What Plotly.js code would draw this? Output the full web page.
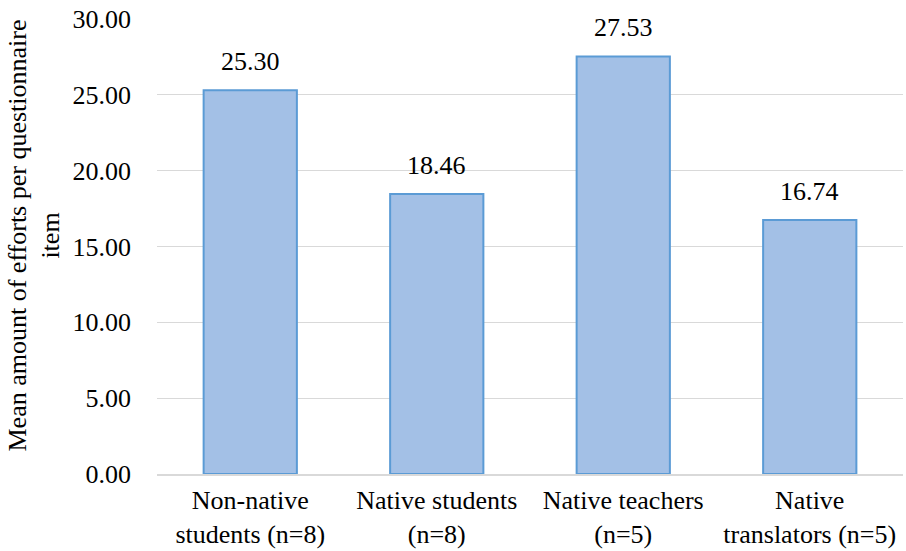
<!DOCTYPE html>
<html><head><meta charset="utf-8">
<script src="https://cdn.plot.ly/plotly-3.0.1.min.js"></script>
<style>body{margin:0;background:#fff}#chart{width:906px;height:551px}</style>
</head><body><div id="chart"></div>
<script>
const categories = ["Non-native<br>students (n=8)", "Native students<br>(n=8)", "Native teachers<br>(n=5)", "Native<br>translators (n=5)"];
const values = [25.30, 18.46, 27.53, 16.74];
const yTicks = [0, 5, 10, 15, 20, 25, 30];
const yTitle = "Mean amount of efforts per questionnaire<br>item";

const mkFont = () => ({family: "Liberation Serif", size: 26, color: "#000"});

const labelAnns = categories.map((c, i) => ({
  x: c, y: values[i], xref: "x", yref: "y",
  text: values[i].toFixed(2), showarrow: false,
  yanchor: "bottom", yshift: 12, font: mkFont()
}));

Plotly.newPlot("chart", [{
  type: "bar",
  x: categories,
  y: values,
  width: 0.5,
  marker: {color: "#a3c0e6", line: {color: "#5b9bd5", width: 2}},
  hoverinfo: "none"
}], {
  width: 906, height: 551,
  margin: {l: 157, r: 3, t: 19, b: 77},
  paper_bgcolor: "#fff", plot_bgcolor: "#fff",
  font: mkFont(),
  showlegend: false,
  bargap: 0.5,
  xaxis: {
    tickfont: mkFont(),
    showline: true, linecolor: "#d9d9d9", linewidth: 1.5,
    ticks: "", ticklabelstandoff: 2, fixedrange: true
  },
  yaxis: {
    range: [0, 30],
    tickvals: yTicks,
    ticktext: yTicks.map(v => v.toFixed(2)),
    tickfont: mkFont(),
    gridcolor: "#d9d9d9", gridwidth: 1,
    zeroline: false,
    ticks: "", ticklabelstandoff: 25,
    fixedrange: true
  },
  annotations: labelAnns.concat([{
    xref: "paper", yref: "paper", x: 0, y: 0.5,
    xanchor: "center", yanchor: "middle", xshift: -123, yshift: 11,
    textangle: -90, showarrow: false, text: yTitle, font: mkFont()
  }])
}, {staticPlot: true});
</script></body></html>
